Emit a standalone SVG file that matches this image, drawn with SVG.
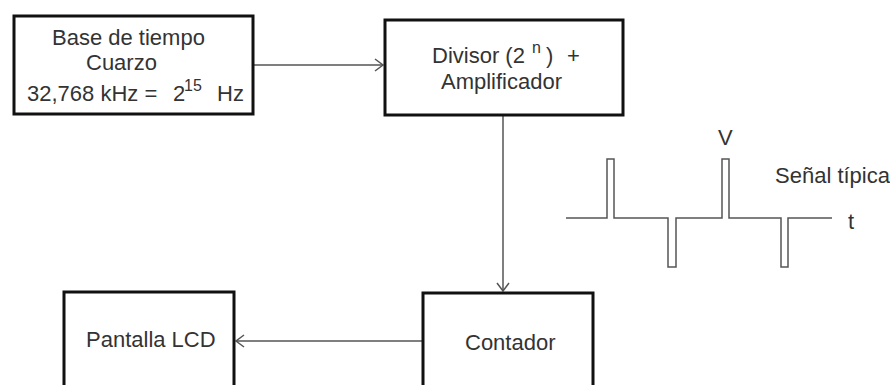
<svg xmlns="http://www.w3.org/2000/svg" width="890" height="385" viewBox="0 0 890 385">
<style>
.box{fill:#fff;stroke:#111;stroke-width:3}
.t{font-family:"Liberation Sans",Arial,sans-serif;font-size:22px;fill:#333}
.ln{fill:none;stroke:#555;stroke-width:1.5}
</style>
<defs>
<marker id="ah" markerUnits="userSpaceOnUse" markerWidth="12" markerHeight="14" refX="9" refY="7" orient="auto">
<path d="M1,1 L9,7 L1,13" fill="none" stroke="#555" stroke-width="1.5"/>
</marker>
</defs>
<rect width="890" height="385" fill="#fff"/>
<g id="connectors">
<line class="ln" x1="253" y1="65" x2="383" y2="65" marker-end="url(#ah)"/>
<line class="ln" x1="503" y1="116" x2="503" y2="291" marker-end="url(#ah)"/>
<line class="ln" x1="422" y1="341" x2="236" y2="341" marker-end="url(#ah)"/>
</g>
<g id="base">
<rect class="box" x="14" y="16" width="239" height="98"/>
<text class="t" x="52" y="45">Base de tiempo</text>
<text class="t" x="86" y="70">Cuarzo</text>
<text class="t" y="101"><tspan x="27">32,768 kHz =</tspan><tspan x="173">2</tspan><tspan x="184" dy="-10" font-size="16">15</tspan><tspan x="217" dy="10">Hz</tspan></text>
</g>
<g id="divisor">
<rect class="box" x="385" y="20" width="238" height="95"/>
<text class="t" y="63"><tspan x="432">Divisor (2</tspan><tspan x="532" dy="-10" font-size="16">n</tspan><tspan x="546" dy="10">)</tspan><tspan x="567">+</tspan></text>
<text class="t" x="441" y="89">Amplificador</text>
</g>
<g id="pantalla">
<rect class="box" x="64" y="292" width="170" height="110"/>
<text class="t" x="86" y="347">Pantalla LCD</text>
</g>
<g id="contador">
<rect class="box" x="423" y="293" width="170" height="110"/>
<text class="t" x="465" y="350">Contador</text>
</g>
<g id="signal">
<polyline class="ln" points="566,218 607,218 607,159 614,159 614,218 668,218 668,267 676,267 676,218 722,218 722,159 729,159 729,218 781,218 781,267 788,267 788,218 832,218"/>
<text class="t" x="718" y="145">V</text>
<text class="t" x="775" y="183">Señal típica</text>
<text class="t" x="848" y="229">t</text>
</g>
</svg>
